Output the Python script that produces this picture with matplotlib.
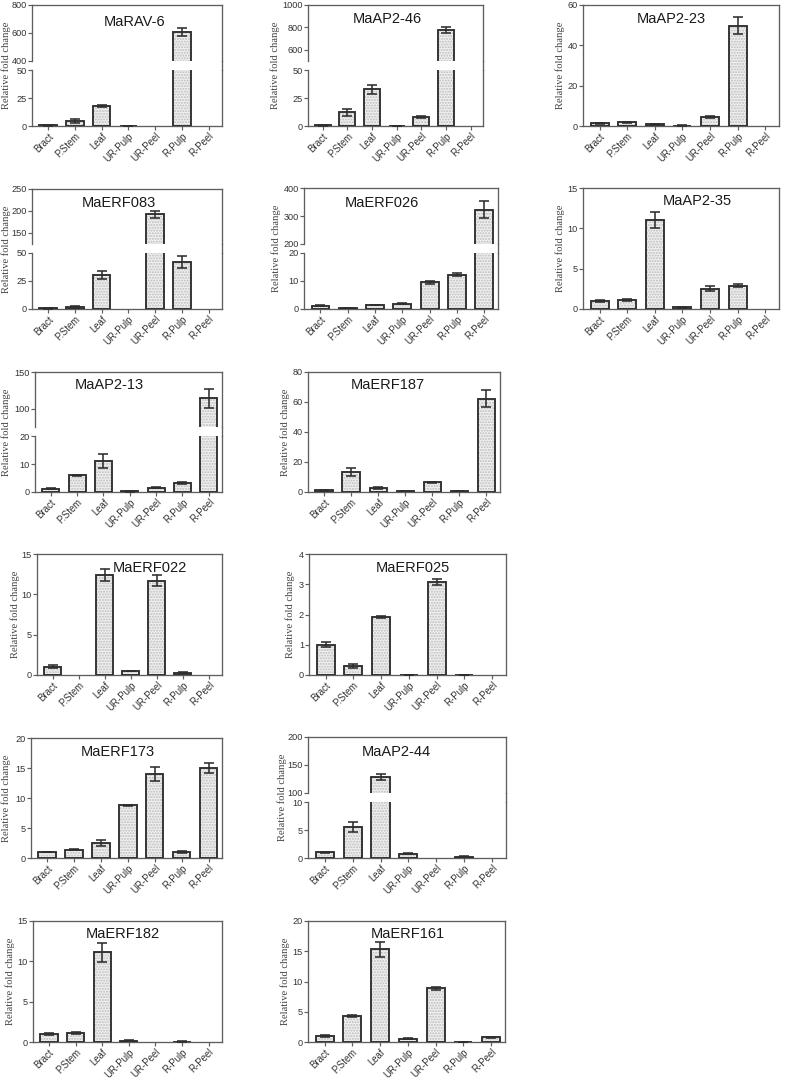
import matplotlib
matplotlib.use('Agg')
import matplotlib.pyplot as plt
import numpy as np
from matplotlib.lines import Line2D

plt.rcParams['font.family'] = ['Liberation Sans', 'DejaVu Sans']

tissues = ['Bract', 'P.Stem', 'Leaf', 'UR-Pulp', 'UR-Peel', 'R-Pulp', 'R-Peel']

# ---- data (mean, error) ----
marav6_mean = [0.5, 4.5, 17.8, 0.3, 0, 610, 0]
marav6_err = [0.3, 1.5, 1.0, 0.1, 0, 28, 0]

maap2_46_mean = [0.5, 12.2, 32.7, 0.3, 7.7, 773, 0]
maap2_46_err = [0.3, 3.0, 4.0, 0.1, 1.0, 27, 0]

maap2_23_mean = [1.3, 1.8, 0.8, 0.2, 4.6, 49.8, 0]
maap2_23_err = [0.2, 0.3, 0.2, 0.1, 0.4, 4.1, 0]

maerf083_mean = [0.8, 1.8, 30.0, 0, 192.5, 42, 0]
maerf083_err = [0.4, 0.6, 3.5, 0, 7.5, 5.0, 0]

maerf026_mean = [1.1, 0.3, 1.5, 1.9, 9.6, 12.2, 322]
maerf026_err = [0.2, 0.1, 0.1, 0.2, 0.5, 0.5, 30]

maap2_35_mean = [1.0, 1.1, 11.0, 0.2, 2.5, 2.9, 0]
maap2_35_err = [0.1, 0.15, 1.0, 0.05, 0.3, 0.2, 0]

maap2_13_mean = [1.1, 5.9, 11.1, 0.2, 1.5, 3.2, 114]
maap2_13_err = [0.2, 0.2, 2.5, 0.05, 0.2, 0.3, 13]

maerf187_mean = [1.0, 13.3, 2.7, 0.5, 6.4, 0.5, 62.2]
maerf187_err = [0.3, 2.4, 0.8, 0.1, 0.3, 0.1, 5.5]

maerf022_mean = [1.04, 0, 12.4, 0.5, 11.7, 0.3, 0]
maerf022_err = [0.15, 0, 0.8, 0.05, 0.7, 0.1, 0]

maerf025_mean = [1.0, 0.31, 1.91, 0.01, 3.08, 0.01, 0]
maerf025_err = [0.08, 0.07, 0.04, 0.0, 0.09, 0.0, 0]

maerf173_mean = [1.0, 1.4, 2.45, 8.8, 14.0, 1.0, 15.0]
maerf173_err = [0.05, 0.05, 0.5, 0.1, 1.1, 0.1, 0.8]

maap2_44_mean = [1.0, 5.6, 128.6, 0.8, 0, 0.2, 0]
maap2_44_err = [0.15, 0.9, 5.0, 0.1, 0, 0.1, 0]

maerf182_mean = [1.03, 1.15, 11.1, 0.15, 0, 0.05, 0]
maerf182_err = [0.12, 0.12, 1.2, 0.05, 0, 0.02, 0]

maerf161_mean = [1.05, 4.3, 15.3, 0.55, 8.85, 0.05, 0.75]
maerf161_err = [0.15, 0.2, 1.3, 0.05, 0.2, 0.02, 0.05]

W, H = 787, 1080
fig = plt.figure(figsize=(W / 100, H / 100), dpi=100)
fig.patch.set_facecolor('white')

SPINE = '#5e5e5e'
EDGE = '#2e2e2e'


def rect(L, R, T, B):
    return [L / W, 1 - B / H, (R - L) / W, (B - T) / H]


def draw_bars(ax, means, errs):
    x = np.arange(len(tissues))
    m = np.array(means, dtype=float)
    e = np.array(errs, dtype=float)
    show = m > 0
    ax.bar(x[show], m[show], width=0.65, color='#f0f0f0', edgecolor='#bdbdbd',
           hatch='......', linewidth=0, zorder=2)
    ax.bar(x[show], m[show], width=0.65, fill=False, edgecolor=EDGE,
           linewidth=1.35, zorder=3)
    ax.errorbar(x[show], m[show], yerr=e[show], fmt='none', ecolor=EDGE,
                elinewidth=1.15, capsize=3.6, capthick=1.15, zorder=4)
    ax.set_xlim(-0.6, 6.5)


def style(ax):
    for s in ax.spines.values():
        s.set_color(SPINE)
        s.set_linewidth(0.95)
    ax.tick_params(axis='both', direction='out', length=2.6, width=0.85,
                   color=SPINE, labelsize=6.6, labelcolor='#333333', pad=1)


def xlabels(ax):
    ax.set_xticks(np.arange(len(tissues)))
    ax.set_xticklabels(tissues, rotation=45, ha='right', rotation_mode='anchor',
                       fontsize=6.9, color='#333333')


def simple_panel(means, errs, box, ylim, yticks):
    ax = fig.add_axes(rect(*box))
    draw_bars(ax, means, errs)
    ax.set_ylim(*ylim)
    ax.set_yticks(yticks)
    style(ax)
    xlabels(ax)
    return ax


def broken_panel(means, errs, box, up_bottom, low_top, low_lim, low_ticks,
                 up_lim, up_ticks):
    L, R, T, B = box
    axu = fig.add_axes(rect(L, R, T, up_bottom))
    axl = fig.add_axes(rect(L, R, low_top, B))
    for ax in (axu, axl):
        draw_bars(ax, means, errs)
        style(ax)
    axu.set_ylim(*up_lim)
    axu.set_yticks(up_ticks)
    axu.spines['bottom'].set_visible(False)
    axu.tick_params(axis='x', bottom=False, labelbottom=False)
    axl.set_ylim(*low_lim)
    axl.set_yticks(low_ticks)
    axl.spines['top'].set_visible(False)
    xlabels(axl)
    # continuous right frame
    fig.add_artist(Line2D([R / W, R / W], [1 - up_bottom / H, 1 - low_top / H],
                          transform=fig.transFigure, color=SPINE, linewidth=0.95))
    return axu, axl


def title(x, y, text):
    fig.text(x / W, 1 - y / H, text, ha='center', va='center', fontsize=10.5,
             color='#1a1a1a')


def ylabel(x, T, B):
    fig.text(x / W, 1 - (T + B) / 2 / H, 'Relative fold change', rotation=90,
             ha='center', va='center', fontsize=7.6, color='#444444',
             family='Liberation Serif')


# Row 1
broken_panel(marav6_mean, marav6_err, (32, 222, 5, 126), 61, 70,
             (0, 50), [0, 25, 50], (400, 800), [400, 600, 800])
title(135, 22, 'MaRAV-6'); ylabel(6, 5, 126)

broken_panel(maap2_46_mean, maap2_46_err, (308, 483, 5, 126), 61, 70,
             (0, 50), [0, 25, 50], (500, 1000), [600, 800, 1000])
title(387, 19, 'MaAP2-46'); ylabel(275, 5, 126)

simple_panel(maap2_23_mean, maap2_23_err, (583, 779, 5, 126), (0, 60), [0, 20, 40, 60])
title(671, 19, 'MaAP2-23'); ylabel(560, 5, 126)

# Row 2
broken_panel(maerf083_mean, maerf083_err, (32, 222, 189, 309), 244, 253,
             (0, 50), [0, 25, 50], (125, 250), [150, 200, 250])
title(119, 203, 'MaERF083'); ylabel(6, 189, 309)

broken_panel(maerf026_mean, maerf026_err, (304, 498, 188, 309), 244, 253,
             (0, 20), [0, 10, 20], (200, 400), [200, 300, 400])
title(382, 203, 'MaERF026'); ylabel(276, 188, 309)

simple_panel(maap2_35_mean, maap2_35_err, (583, 779, 188, 309), (0, 15), [0, 5, 10, 15])
title(697, 201, 'MaAP2-35'); ylabel(560, 188, 309)

# Row 3
broken_panel(maap2_13_mean, maap2_13_err, (35, 222, 372, 492), 427, 436,
             (0, 20), [0, 10, 20], (75, 150), [100, 150])
title(109, 385, 'MaAP2-13'); ylabel(6, 372, 492)

simple_panel(maerf187_mean, maerf187_err, (308, 500, 372, 492), (0, 80), [0, 20, 40, 60, 80])
title(388, 385, 'MaERF187'); ylabel(285, 372, 492)

# Row 4
simple_panel(maerf022_mean, maerf022_err, (37, 222, 554, 675), (0, 15), [0, 5, 10, 15])
title(150, 568, 'MaERF022'); ylabel(15, 554, 675)

simple_panel(maerf025_mean, maerf025_err, (309, 506, 554, 675), (0, 4), [0, 1, 2, 3, 4])
title(413, 568, 'MaERF025'); ylabel(290, 554, 675)

# Row 5
simple_panel(maerf173_mean, maerf173_err, (31, 222, 738, 858), (0, 20), [0, 5, 10, 15, 20])
title(118, 752, 'MaERF173'); ylabel(6, 738, 858)

broken_panel(maap2_44_mean, maap2_44_err, (308, 506, 737, 858), 793, 802,
             (0, 10), [0, 5, 10], (100, 200), [100, 150, 200])
title(396, 752, 'MaAP2-44'); ylabel(282, 737, 858)

# Row 6
simple_panel(maerf182_mean, maerf182_err, (33, 222, 921, 1042), (0, 15), [0, 5, 10, 15])
title(123, 934, 'MaERF182'); ylabel(10, 921, 1042)

simple_panel(maerf161_mean, maerf161_err, (308, 505, 921, 1042), (0, 20), [0, 5, 10, 15, 20])
title(408, 934, 'MaERF161'); ylabel(285, 921, 1042)

fig.savefig('out.png', dpi=100, facecolor='white')
